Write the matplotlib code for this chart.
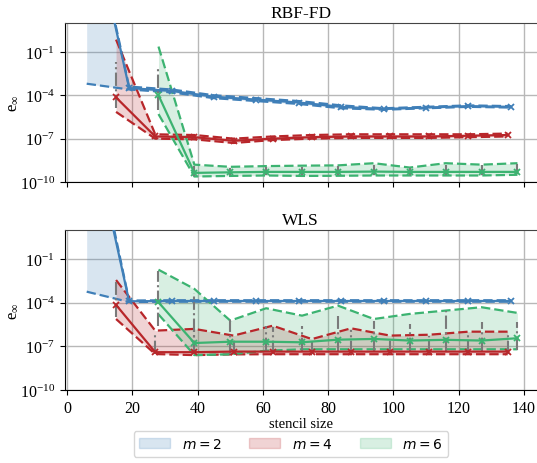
import numpy as np
import matplotlib
matplotlib.use("Agg")
import matplotlib.pyplot as plt
from matplotlib.patches import Patch
from matplotlib.font_manager import FontProperties

plt.rcParams['font.family'] = ['Liberation Serif', 'DejaVu Sans']
plt.rcParams['mathtext.fontset'] = 'custom'
plt.rcParams['mathtext.rm'] = 'Liberation Serif'
plt.rcParams['mathtext.it'] = 'Liberation Serif:italic'

# stencil sizes
x_m2 = [6, 19, 32, 45, 58, 71, 84, 97, 110, 123, 136]
x_m4 = [15, 27, 39, 51, 63, 75, 87, 99, 111, 123, 135]
x_m6 = [28, 39, 50, 61, 72, 83, 94, 105, 116, 127, 138]

# log10 errors, RBF-FD
rbf_m2_med = [9.7, -3.5, -3.7, -4.1, -4.3, -4.5, -4.8, -4.95, -4.85, -4.75, -4.8]
rbf_m2_lo = [-3.2, -3.6, -3.8, -4.2, -4.4, -4.6, -4.9, -5.0, -4.9, -4.8, -4.85]
rbf_m2_hi = [10.0, -3.4, -3.6, -4.0, -4.2, -4.4, -4.7, -4.9, -4.8, -4.7, -4.75]

rbf_m4_med = [-4.15, -6.85, -6.9, -7.15, -7.0, -6.9, -6.85, -6.85, -6.85, -6.8, -6.75]
rbf_m4_lo = [-5.15, -7.0, -7.05, -7.3, -7.1, -7.0, -6.95, -6.95, -6.95, -6.9, -6.85]
rbf_m4_hi = [-0.15, -6.7, -6.75, -7.0, -6.85, -6.75, -6.7, -6.7, -6.7, -6.7, -6.65]
rbf_m4_elo = [-4.9, -6.95, -7.0, -7.25, -7.05, -6.95, -6.9, -6.9, -6.9, -6.85, -6.8]
rbf_m4_ehi = [-1.7, -6.75, -6.8, -7.05, -6.9, -6.8, -6.75, -6.75, -6.75, -6.75, -6.7]

rbf_m6_med = [-4.0, -9.37, -9.33, -9.3, -9.3, -9.3, -9.28, -9.3, -9.3, -9.3, -9.3]
rbf_m6_lo = [-5.3, -9.62, -9.58, -9.55, -9.58, -9.57, -9.55, -9.55, -9.55, -9.55, -9.5]
rbf_m6_hi = [-0.63, -8.8, -8.95, -8.9, -8.87, -8.85, -8.7, -9.0, -8.7, -8.8, -8.7]
rbf_m6_elo = [-5.0, -9.6, -9.5, -9.5, -9.5, -9.5, -9.5, -9.5, -9.5, -9.5, -9.45]
rbf_m6_ehi = [-1.95, -8.9, -9.0, -8.95, -8.95, -8.9, -8.8, -9.05, -8.8, -8.85, -8.75]

# log10 errors, WLS
wls_m2_med = [9.4, -3.9, -3.88, -3.88, -3.88, -3.88, -3.88, -3.88, -3.88, -3.88, -3.88]
wls_m2_lo = [-3.24, -3.95, -3.93, -3.93, -3.93, -3.93, -3.93, -3.93, -3.93, -3.93, -3.93]
wls_m2_hi = [10.0, -3.85, -3.83, -3.83, -3.83, -3.83, -3.83, -3.83, -3.83, -3.83, -3.83]

wls_m4_med = [-4.15, -7.4, -7.4, -7.36, -7.36, -7.36, -7.36, -7.36, -7.36, -7.36, -7.36]
wls_m4_lo = [-5.12, -7.53, -7.6, -7.55, -7.54, -7.54, -7.54, -7.54, -7.54, -7.54, -7.54]
wls_m4_hi = [-2.44, -5.92, -5.8, -6.26, -5.58, -6.5, -5.76, -6.26, -6.2, -5.99, -5.99]
wls_m4_elo = [-4.98, -7.5, -7.55, -7.5, -7.5, -7.5, -7.5, -7.5, -7.5, -7.5, -7.5]
wls_m4_ehi = [-2.6, -6.0, -5.9, -6.4, -5.7, -6.6, -5.9, -6.4, -6.3, -6.1, -6.1]

wls_m6_med = [-3.97, -6.77, -6.68, -6.68, -6.72, -6.54, -6.49, -6.6, -6.55, -6.6, -6.44]
wls_m6_lo = [-4.8, -7.6, -7.55, -7.3, -7.2, -7.2, -7.2, -7.2, -7.2, -7.2, -7.2]
wls_m6_hi = [-1.73, -3.05, -5.23, -4.38, -4.89, -4.2, -5.12, -4.77, -4.54, -4.31, -4.7]
wls_m6_elo = [-5.6, -7.5, -7.5, -7.3, -7.3, -7.3, -7.3, -7.3, -7.3, -7.3, -7.25]
wls_m6_ehi = [-1.8, -3.3, -5.2, -5.6, -5.6, -4.9, -5.25, -5.45, -4.6, -5.35, -5.35]

c_m2 = '#3f7fb8'
c_m4 = '#b8262a'
c_m6 = '#3cb371'
labels = [r'$m = 2$', r'$m = 4$', r'$m = 6$']


def p10(a):
    return np.power(10.0, np.asarray(a, dtype=float))


def draw(ax, x, med, lo, hi, color, elo=None, ehi=None):
    ax.fill_between(x, p10(lo), p10(hi), color=color, alpha=0.2, lw=0, zorder=2)
    ax.plot(x, p10(hi), '--', color=color, lw=1.6, dashes=(4.2, 1.8), zorder=3)
    ax.plot(x, p10(lo), '--', color=color, lw=1.6, dashes=(4.2, 1.8), zorder=3)
    if elo is not None:
        m = p10(med)
        eb = ax.errorbar(x, m, yerr=[m - p10(elo), p10(ehi) - m], fmt='none',
                         ecolor='#7a7a7a', elinewidth=1.5, capsize=0, zorder=4)
        for c in eb[2]:
            c.set_linestyle('-.')
    ax.plot(x, p10(med), '-', color=color, lw=1.6, marker='x', ms=5, mew=1.3, zorder=5)


fig = plt.figure(figsize=(5.37, 4.64), dpi=100)
W, H = 537.0, 464.0
ax1 = fig.add_axes([64.5 / W, 1 - 183 / H, (537 - 64.5) / W, 159 / H])
ax2 = fig.add_axes([64.5 / W, 1 - 391 / H, (537 - 64.5) / W, 160 / H])

draw(ax1, x_m2, rbf_m2_med, rbf_m2_lo, rbf_m2_hi, c_m2)
draw(ax1, x_m4, rbf_m4_med, rbf_m4_lo, rbf_m4_hi, c_m4, rbf_m4_elo, rbf_m4_ehi)
draw(ax1, x_m6, rbf_m6_med, rbf_m6_lo, rbf_m6_hi, c_m6, rbf_m6_elo, rbf_m6_ehi)

draw(ax2, x_m2, wls_m2_med, wls_m2_lo, wls_m2_hi, c_m2)
draw(ax2, x_m4, wls_m4_med, wls_m4_lo, wls_m4_hi, c_m4, wls_m4_elo, wls_m4_ehi)
draw(ax2, x_m6, wls_m6_med, wls_m6_lo, wls_m6_hi, c_m6, wls_m6_elo, wls_m6_ehi)

yt = [1e-10, 1e-7, 1e-4, 1e-1]
ytl = [r'$10^{-10}$', r'$10^{-7}$', r'$10^{-4}$', r'$10^{-1}$']
for ax, title in [(ax1, 'RBF-FD'), (ax2, 'WLS')]:
    ax.set_yscale('log')
    ax.set_ylim(1e-10, 1e1)
    ax.set_xlim(-0.8, 144)
    ax.set_yticks(yt)
    ax.set_yticklabels(ytl)
    ax.yaxis.set_minor_locator(matplotlib.ticker.NullLocator())
    ax.set_xticks([0, 20, 40, 60, 80, 100, 120, 140])
    ax.grid(True, color='#b8b8b8', lw=1.0, zorder=0)
    ax.set_axisbelow(True)
    ax.set_title(title, fontsize=12.5, pad=4)
    ax.set_ylabel(r'e$_\infty$', fontsize=12)
    ax.yaxis.set_label_coords(-0.092, 0.5)
    ax.tick_params(labelsize=11.5, length=3.5)
    ax.spines['top'].set_color('#444444')
    ax.spines['right'].set_visible(False)

ax1.set_xticklabels([])
ax2.set_xlabel('stencil size', fontsize=10.5, labelpad=1)

handles = [Patch(facecolor=c, alpha=0.2, edgecolor=c) for c in (c_m2, c_m4, c_m6)]
fp = FontProperties(family='DejaVu Sans', size=10, math_fontfamily='dejavusans')
fig.legend(handles, labels, loc='center', bbox_to_anchor=(291 / W, 1 - 445 / H), ncol=3,
           prop=fp, handlelength=2.2, handletextpad=0.85,
           columnspacing=2.0, frameon=True, edgecolor='#cccccc', fancybox=True)

fig.savefig('out.png', dpi=100)
